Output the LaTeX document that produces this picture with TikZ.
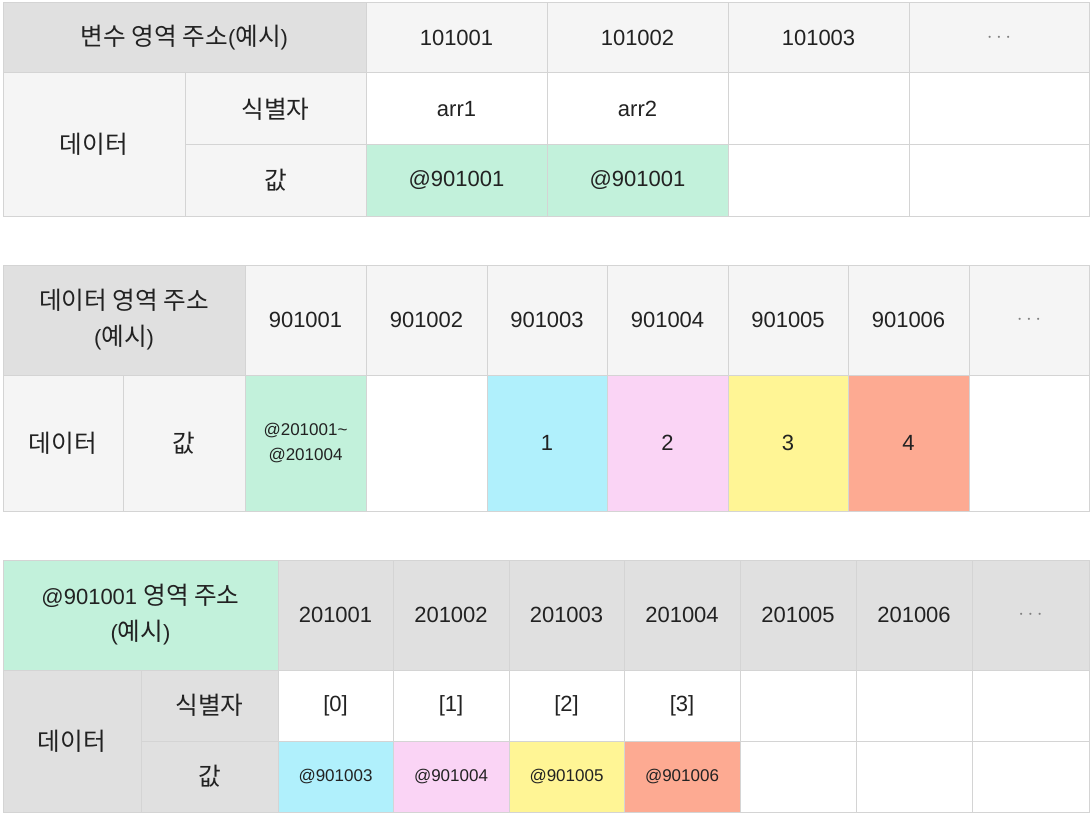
\documentclass[tikz,border=0pt]{standalone}
\usepackage{fontspec}
\setmainfont{Liberation Sans}
\newfontfamily\kr[Scale=1.12]{Noto Sans CJK KR}
\usetikzlibrary{positioning}

\definecolor{gridline}{HTML}{D4D4D4}
\definecolor{headgray}{HTML}{E0E0E0}
\definecolor{softgray}{HTML}{F5F5F5}
\definecolor{ink}{HTML}{222222}
\definecolor{mint}{HTML}{C2F1DB}
\definecolor{sky}{HTML}{B0F0FC}
\definecolor{blush}{HTML}{FAD4F5}
\definecolor{lemon}{HTML}{FFF595}
\definecolor{salmon}{HTML}{FDAA92}

\begin{document}
\begin{tikzpicture}[x=1pt,y=-1pt]
  \tikzstyle{cell} = [draw=gridline, line width=1pt, rectangle, inner sep=0pt, text=ink, align=center, font={\fontsize{22}{36}\selectfont}]
  \tikzstyle{smallcell} = [cell, font={\fontsize{17}{25}\selectfont}]

  \useasboundingbox (0,0) rectangle (1091,813);

  % variable area
  \node[cell, fill=headgray, minimum width=363pt, minimum height=70pt] (vhead) at (184.5,38) {{\kr 변수 영역 주소}({\kr 예시})};
  \node[cell, fill=softgray, minimum width=182pt, minimum height=143pt] (vdata) at (94,144.5) {\kr 데이터};
  \node[cell, fill=softgray, minimum width=181pt, minimum height=72pt] (vid) at (275.5,109) {\kr 식별자};
  \node[cell, fill=softgray, minimum width=181pt, minimum height=71pt] (vval) at (275.5,180.5) {\kr 값};
  \foreach \i/\xa/\xb/\txt in {1/366/547/101001, 2/547/728/101002, 3/728/909/101003, 4/909/1089/{\textcolor{gray}{$\cdots$}}}
    \node[cell, fill=softgray, minimum width={(\xb-\xa)*1pt}, minimum height=70pt] (va\i) at ({(\xa+\xb)/2},38) {\txt};
  \foreach \i/\xa/\xb/\txt in {1/366/547/arr1, 2/547/728/arr2, 3/728/909/{}, 4/909/1089/{}}
    \node[cell, fill=white, minimum width={(\xb-\xa)*1pt}, minimum height=72pt] (vi\i) at ({(\xa+\xb)/2},109) {\txt};
  \foreach \i/\xa/\xb/\col/\txt in {1/366/547/mint/@901001, 2/547/728/mint/@901001, 3/728/909/white/{}, 4/909/1089/white/{}}
    \node[cell, fill=\col, minimum width={(\xb-\xa)*1pt}, minimum height=71pt] (vv\i) at ({(\xa+\xb)/2},180.5) {\txt};

  % data area
  \node[cell, fill=headgray, minimum width=242pt, minimum height=110pt] (dhead) at (124,320) {{\kr 데이터 영역 주소}\\({\kr 예시})};
  \node[cell, fill=softgray, minimum width=120pt, minimum height=136pt] (ddata) at (63,443) {\kr 데이터};
  \node[cell, fill=softgray, minimum width=122pt, minimum height=136pt] (dval) at (184,443) {\kr 값};
  \foreach \i/\xa/\xb/\txt in {1/245/366/901001, 2/366/487/901002, 3/487/607/901003, 4/607/728/901004, 5/728/848/901005, 6/848/969/901006, 7/969/1089/{\textcolor{gray}{$\cdots$}}}
    \node[cell, fill=softgray, minimum width={(\xb-\xa)*1pt}, minimum height=110pt] (da\i) at ({(\xa+\xb)/2},320) {\txt};
  \node[smallcell, fill=mint, minimum width=121pt, minimum height=136pt] (dv1) at (305.5,443) {@201001\textasciitilde\\@201004};
  \foreach \i/\xa/\xb/\col/\txt in {2/366/487/white/{}, 3/487/607/sky/1, 4/607/728/blush/2, 5/728/848/lemon/3, 6/848/969/salmon/4, 7/969/1089/white/{}}
    \node[cell, fill=\col, minimum width={(\xb-\xa)*1pt}, minimum height=136pt] (dv\i) at ({(\xa+\xb)/2},443) {\txt};

  % array area
  \node[cell, fill=mint, minimum width=275pt, minimum height=110pt] (ahead) at (140.5,615) {@901001 {\kr 영역 주소}\\({\kr 예시})};
  \node[cell, fill=headgray, minimum width=138pt, minimum height=142pt] (adata) at (72,741) {\kr 데이터};
  \node[cell, fill=headgray, minimum width=137pt, minimum height=71pt] (aid) at (209.5,705.5) {\kr 식별자};
  \node[cell, fill=headgray, minimum width=137pt, minimum height=71pt] (aval) at (209.5,776.5) {\kr 값};
  \foreach \i/\xa/\xb/\txt in {1/278/393/201001, 2/393/509/201002, 3/509/624/201003, 4/624/740/201004, 5/740/856/201005, 6/856/972/201006, 7/972/1089/{\textcolor{gray}{$\cdots$}}}
    \node[cell, fill=headgray, minimum width={(\xb-\xa)*1pt}, minimum height=110pt] (aa\i) at ({(\xa+\xb)/2},615) {\txt};
  \foreach \i/\xa/\xb/\txt in {1/278/393/{[0]}, 2/393/509/{[1]}, 3/509/624/{[2]}, 4/624/740/{[3]}, 5/740/856/{}, 6/856/972/{}, 7/972/1089/{}}
    \node[cell, fill=white, minimum width={(\xb-\xa)*1pt}, minimum height=71pt] (ai\i) at ({(\xa+\xb)/2},705.5) {\txt};
  \foreach \i/\xa/\xb/\col/\txt in {1/278/393/sky/@901003, 2/393/509/blush/@901004, 3/509/624/lemon/@901005, 4/624/740/salmon/@901006, 5/740/856/white/{}, 6/856/972/white/{}, 7/972/1089/white/{}}
    \node[smallcell, fill=\col, minimum width={(\xb-\xa)*1pt}, minimum height=71pt] (av\i) at ({(\xa+\xb)/2},776.5) {\txt};
\end{tikzpicture}
\end{document}
